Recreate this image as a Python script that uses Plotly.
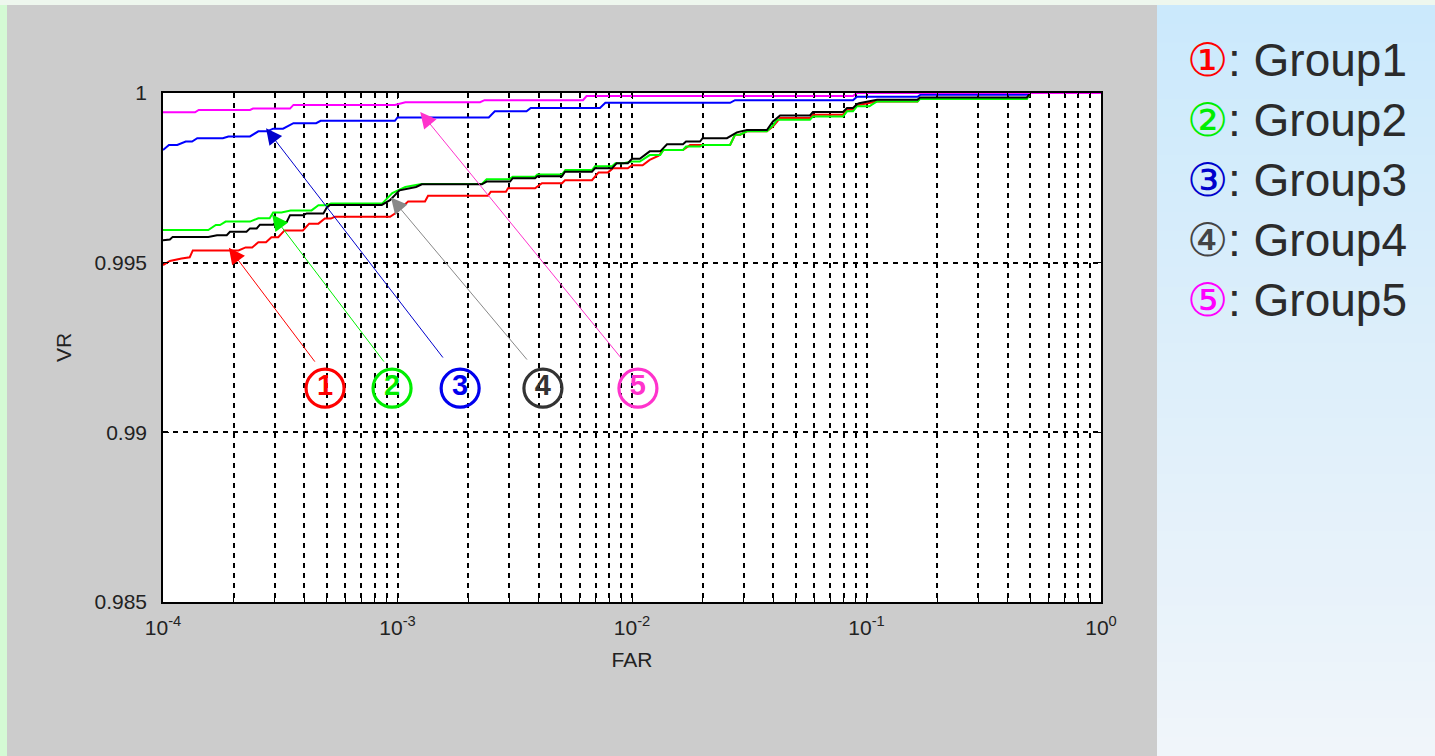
import math
import plotly.graph_objects as go

# ---------------- data ----------------
far_g1 = [1.0e-4, 1.07e-4, 1.2e-4, 1.3e-4, 1.34e-4, 2.1e-4, 2.25e-4, 2.4e-4, 2.55e-4, 2.75e-4,
          2.9e-4, 3.1e-4, 3.3e-4, 3.95e-4, 4.2e-4, 4.6e-4, 4.9e-4, 5.2e-4, 5.4e-4, 9.3e-4,
          9.75e-4, 1.05e-3, 1.11e-3, 1.31e-3, 1.35e-3, 2.43e-3, 2.5e-3, 2.9e-3, 2.96e-3, 3.86e-3,
          4.13e-3, 5.03e-3, 5.18e-3, 6.75e-3, 6.95e-3, 7.2e-3, 7.9e-3, 8.3e-3, 9.6e-3, 1.0e-2,
          1.11e-2, 1.19e-2, 1.3e-2, 1.36e-2, 1.65e-2, 1.77e-2, 2.62e-2, 2.75e-2, 2.89e-2, 3.09e-2,
          3.76e-2, 3.99e-2, 4.28e-2, 5.74e-2, 5.91e-2, 7.94e-2, 8.26e-2, 8.76e-2, 9.11e-2, 0.103,
          0.111, 0.165, 0.169, 0.483, 0.5, 1.0]
vr_g1 = [0.99493, 0.99505, 0.99512, 0.99516, 0.99536, 0.99536, 0.99545, 0.99545, 0.99560, 0.99560,
         0.99575, 0.99575, 0.99595, 0.99595, 0.99615, 0.99615, 0.99630, 0.99630, 0.99635, 0.99635,
         0.99645, 0.99665, 0.99680, 0.99680, 0.99697, 0.99697, 0.99709, 0.99709, 0.99719, 0.99719,
         0.99734, 0.99734, 0.99743, 0.99743, 0.99753, 0.99766, 0.99766, 0.99778, 0.99778, 0.99787,
         0.99787, 0.99803, 0.99815, 0.99832, 0.99832, 0.99847, 0.99847, 0.99877, 0.99877, 0.99887,
         0.99887, 0.99901, 0.99926, 0.99926, 0.99936, 0.99936, 0.99951, 0.99951, 0.99964, 0.99970,
         0.99975, 0.99975, 0.99984, 0.99984, 1.0, 1.0]

far_g2 = [1.0e-4, 1.56e-4, 1.68e-4, 1.75e-4, 1.85e-4, 2.35e-4, 2.55e-4, 2.85e-4, 2.95e-4, 3.2e-4,
          3.5e-4, 4.3e-4, 4.6e-4, 5.0e-4, 5.2e-4, 8.6e-4, 9.5e-4, 1.0e-3, 1.08e-3, 1.2e-3,
          1.27e-3, 2.29e-3, 2.4e-3, 3.0e-3, 3.1e-3, 3.86e-3, 3.95e-3, 5.03e-3, 5.2e-3, 6.75e-3,
          6.95e-3, 8.22e-3, 8.5e-3, 9.2e-3, 1.0e-2, 1.08e-2, 1.19e-2, 1.32e-2, 1.36e-2, 1.65e-2,
          1.7e-2, 1.95e-2, 2.0e-2, 2.62e-2, 2.75e-2, 2.89e-2, 3.09e-2, 3.76e-2, 3.9e-2, 4.0e-2,
          4.15e-2, 5.74e-2, 5.91e-2, 7.94e-2, 8.26e-2, 8.76e-2, 9.11e-2, 0.103, 0.105, 0.111,
          0.165, 0.169, 0.483, 0.5, 1.0]
vr_g2 = [0.99596, 0.99596, 0.99611, 0.99611, 0.99621, 0.99621, 0.99631, 0.99631, 0.99648, 0.99648,
         0.99654, 0.99654, 0.99669, 0.99669, 0.99674, 0.99674, 0.99705, 0.99713, 0.99723, 0.99729,
         0.99732, 0.99732, 0.99746, 0.99746, 0.99753, 0.99753, 0.99760, 0.99760, 0.99773, 0.99773,
         0.99784, 0.99784, 0.99793, 0.99793, 0.99798, 0.99798, 0.99817, 0.99817, 0.99832, 0.99832,
         0.99842, 0.99842, 0.99847, 0.99847, 0.99877, 0.99877, 0.99887, 0.99887, 0.99899, 0.99905,
         0.99921, 0.99921, 0.99931, 0.99931, 0.99946, 0.99946, 0.99961, 0.99961, 0.99965, 0.99975,
         0.99975, 0.99982, 0.99982, 1.0, 1.0]

far_g3 = [1.0e-4, 1.06e-4, 1.15e-4, 1.25e-4, 1.33e-4, 1.40e-4, 1.80e-4, 1.90e-4, 2.35e-4, 2.55e-4,
          2.78e-4, 2.95e-4, 3.25e-4, 3.6e-4, 4.5e-4, 4.7e-4, 9.75e-4, 1.0e-3, 2.45e-3, 2.6e-3,
          3.55e-3, 3.7e-3, 7.3e-3, 7.7e-3, 2.62e-2, 2.75e-2, 8.76e-2, 9.1e-2, 0.165, 0.17,
          0.48, 0.5, 1.0]
vr_g3 = [0.99832, 0.99847, 0.99847, 0.99857, 0.99857, 0.99867, 0.99867, 0.99872, 0.99872, 0.99887,
         0.99887, 0.99895, 0.99895, 0.99911, 0.99911, 0.99918, 0.99918, 0.99928, 0.99928, 0.99946,
         0.99946, 0.99956, 0.99956, 0.99971, 0.99971, 0.99979, 0.99979, 0.99989, 0.99989, 0.99995,
         0.99995, 1.0, 1.0]

far_g4 = [1.0e-4, 1.07e-4, 1.1e-4, 1.56e-4, 1.7e-4, 1.87e-4, 1.93e-4, 2.27e-4, 2.35e-4, 2.51e-4,
          2.59e-4, 2.95e-4, 3.06e-4, 3.37e-4, 3.48e-4, 3.96e-4, 4.10e-4, 4.83e-4, 4.99e-4, 5.15e-4,
          8.57e-4, 9.29e-4, 1.02e-3, 1.2e-3, 1.27e-3, 2.29e-3, 2.4e-3, 3.02e-3, 3.1e-3, 3.86e-3,
          3.95e-3, 5.03e-3, 5.18e-3, 6.75e-3, 6.95e-3, 8.22e-3, 8.6e-3, 9.6e-3, 1.0e-2, 1.08e-2,
          1.19e-2, 1.32e-2, 1.41e-2, 1.65e-2, 1.7e-2, 1.95e-2, 2.0e-2, 2.54e-2, 2.8e-2, 3.09e-2,
          3.76e-2, 3.99e-2, 4.28e-2, 5.74e-2, 5.91e-2, 7.94e-2, 8.26e-2, 8.76e-2, 9.11e-2, 0.093,
          0.111, 0.165, 0.169, 0.483, 0.5, 1.0]
vr_g4 = [0.99566, 0.99568, 0.99576, 0.99576, 0.99581, 0.99581, 0.99591, 0.99591, 0.99601, 0.99601,
         0.99612, 0.99612, 0.99620, 0.99620, 0.99640, 0.99640, 0.99645, 0.99645, 0.99662, 0.99670,
         0.99670, 0.99684, 0.99713, 0.99723, 0.99731, 0.99731, 0.99739, 0.99739, 0.99749, 0.99749,
         0.99755, 0.99755, 0.99768, 0.99768, 0.99778, 0.99778, 0.99793, 0.99793, 0.99806, 0.99806,
         0.99828, 0.99828, 0.99849, 0.99849, 0.99857, 0.99857, 0.99867, 0.99867, 0.99884, 0.99891,
         0.99891, 0.99916, 0.99934, 0.99934, 0.99944, 0.99944, 0.99956, 0.99956, 0.99967, 0.99970,
         0.99980, 0.99980, 0.99987, 0.99987, 1.0, 1.0]

far_g5 = [1.0e-4, 1.37e-4, 1.42e-4, 2.35e-4, 2.42e-4, 3.48e-4, 3.6e-4, 9.75e-4, 1.08e-3, 2.25e-3,
          2.35e-3, 6.18e-3, 6.4e-3, 8.76e-2, 9.1e-2, 1.0]
vr_g5 = [0.99943, 0.99943, 0.99950, 0.99950, 0.99954, 0.99954, 0.99965, 0.99965, 0.99973, 0.99973,
         0.99979, 0.99979, 0.99991, 0.99991, 1.0, 1.0]

group_names = ["Group1", "Group2", "Group3", "Group4", "Group5"]
circled = ["①", "②", "③", "④", "⑤"]
digits = ["1", "2", "3", "4", "5"]

# circled labels inside the plot and arrows (data coordinates)
label_far = [4.91e-4, 9.48e-4, 1.85e-3, 4.17e-3, 1.06e-2]
label_vr = [0.99130, 0.99130, 0.99130, 0.99130, 0.99130]
arrow_tail_far = [4.49e-4, 8.85e-4, 1.58e-3, 3.61e-3, 9.06e-3]
arrow_tail_vr = [0.99204, 0.99204, 0.99216, 0.99210, 0.99216]
arrow_head_far = [1.91e-4, 2.92e-4, 2.75e-4, 9.38e-4, 1.25e-3]
arrow_head_vr = [0.99544, 0.99642, 0.99896, 0.99692, 0.99944]

x_tickvals = [1e-4, 1e-3, 1e-2, 1e-1, 1.0]
x_ticktext = ["10<sup>-4</sup>", "10<sup>-3</sup>", "10<sup>-2</sup>", "10<sup>-1</sup>", "10<sup>0</sup>"]
x_minorvals = [m * 10.0 ** e for e in range(-4, 0) for m in range(2, 10)]
y_tickvals = [0.985, 0.99, 0.995, 1.0]
y_ticktext = ["0.985", "0.99", "0.995", "1"]

# ---------------- styles ----------------
line_colors = ["#ff0000", "#00ff00", "#0000ff", "#000000", "#ff00ff"]
label_colors = ["#ff0000", "#00ee00", "#0000ee", "#333333", "#ff33cc"]
arrow_colors = ["#ff0000", "#00ee00", "#0000cc", "#888888", "#ff33cc"]
legend_colors = ["#ff0000", "#00ee00", "#0000cc", "#444444", "#ff00ff"]

W, H = 1435, 756
L, R, T, B = 163, 1101, 93, 602
pw, ph = R - L, B - T


def px(xp):
    return (xp - L) / pw


def py(yp):
    return (B - yp) / ph


fig = go.Figure()

series = [(far_g1, vr_g1), (far_g2, vr_g2), (far_g3, vr_g3), (far_g4, vr_g4), (far_g5, vr_g5)]
for (fx, vy), name, col in zip(series, group_names, line_colors):
    fig.add_trace(go.Scatter(x=fx, y=vy, mode="lines", name=name,
                             line=dict(color=col, width=2), showlegend=False))

fig.add_trace(go.Scatter(
    x=label_far, y=label_vr, mode="markers+text", text=digits,
    textposition="middle center",
    textfont=dict(family="Liberation Sans, Arial, sans-serif", size=29, color=label_colors,
                  weight="bold"),
    marker=dict(symbol="circle-open", size=38, color=label_colors, line=dict(width=3.2, color=label_colors)),
    showlegend=False, hoverinfo="skip"))

annotations = []
for i in range(5):
    annotations.append(dict(
        x=math.log10(arrow_head_far[i]), y=arrow_head_vr[i],
        ax=math.log10(arrow_tail_far[i]), ay=arrow_tail_vr[i],
        xref="x", yref="y", axref="x", ayref="y",
        text="", showarrow=True, arrowhead=2, arrowsize=3.2, arrowwidth=1,
        arrowcolor=arrow_colors[i]))

# right-hand legend text
row_y = [60, 120, 180, 240, 300]
for i in range(5):
    annotations.append(dict(
        x=px(1185), y=py(row_y[i]), xref="paper", yref="paper",
        xanchor="left", yanchor="middle", showarrow=False,
        text=(f'<span style="color:{legend_colors[i]}">{circled[i]}</span>'
              f': {group_names[i]}'),
        font=dict(family="Liberation Sans, Arial, sans-serif", size=46, color="#2b2b2b")))

# background decoration: left green strip, top strip, right gradient panel
shapes = []
shapes.append(dict(type="rect", xref="paper", yref="paper", x0=px(0), x1=px(7), y0=py(H), y1=py(0),
                   fillcolor="#d4fad4", line=dict(width=0), layer="below"))
shapes.append(dict(type="rect", xref="paper", yref="paper", x0=px(0), x1=px(W), y0=py(5), y1=py(0),
                   fillcolor="#eef7ee", line=dict(width=0), layer="below"))
top_c = (203, 233, 252)
mid_c = (222, 239, 250)
bot_c = (240, 245, 250)
nb = 40
for k in range(nb):
    y0p = 5 + (H - 5) * k / nb
    y1p = 5 + (H - 5) * (k + 1) / nb + 2
    t = (k + 0.5) / nb
    if t < 0.5:
        a, b, u = top_c, mid_c, t / 0.5
    else:
        a, b, u = mid_c, bot_c, (t - 0.5) / 0.5
    c = tuple(round(a[j] + (b[j] - a[j]) * u) for j in range(3))
    shapes.append(dict(type="rect", xref="paper", yref="paper", x0=px(1157), x1=px(W + 2),
                       y0=py(y1p), y1=py(y0p), fillcolor=f"rgb{c}", line=dict(width=0), layer="below"))

tick_font = dict(family="Liberation Sans, Arial, sans-serif", size=21, color="#222222")

fig.update_layout(
    width=W, height=H,
    margin=dict(l=L, r=W - R, t=T, b=H - B, pad=0),
    paper_bgcolor="#cccccc", plot_bgcolor="#ffffff",
    showlegend=False,
    annotations=annotations, shapes=shapes,
    font=tick_font,
)

grid_dash = "5px,5px"
fig.update_xaxes(
    type="log", range=[-4, 0],
    tickvals=x_tickvals, ticktext=x_ticktext, tickfont=tick_font,
    ticks="inside", ticklen=6, tickcolor="black", ticklabelstandoff=6,
    showline=True, linecolor="black", linewidth=1.5, mirror="ticks",
    showgrid=True, gridcolor="black", gridwidth=1.7, griddash=grid_dash,
    minor=dict(tickvals=x_minorvals, ticks="inside", ticklen=4, tickcolor="black",
               showgrid=True, gridcolor="black", gridwidth=1.7, griddash=grid_dash),
    zeroline=False,
    title=dict(text="FAR", font=tick_font, standoff=14),
)
fig.update_yaxes(
    range=[0.985, 1.0],
    tickvals=y_tickvals, ticktext=y_ticktext, tickfont=tick_font,
    ticks="inside", ticklen=6, tickcolor="black", ticklabelstandoff=10,
    showline=True, linecolor="black", linewidth=1.5, mirror="ticks",
    showgrid=True, gridcolor="black", gridwidth=1.7, griddash=grid_dash,
    zeroline=False,
    title=dict(text="VR", font=tick_font, standoff=17),
)

fig.write_html("out.html", config={"displayModeBar": False},
               post_script="document.body.style.margin='0px';document.body.style.overflow='hidden';")
